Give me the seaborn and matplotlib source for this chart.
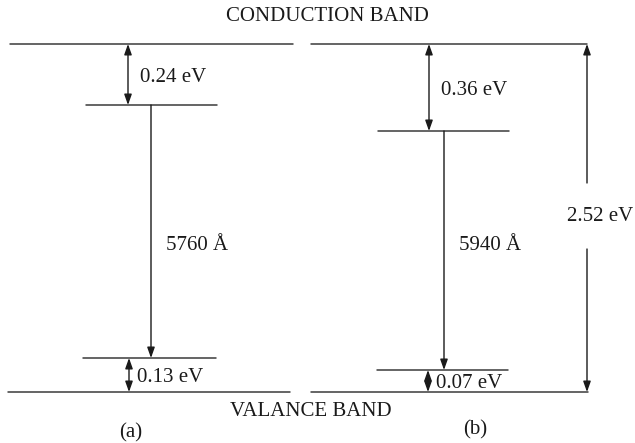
import matplotlib
matplotlib.use("Agg")
import matplotlib.pyplot as plt
import seaborn as sns
import pandas as pd

#  Data (schematic heights above the valence band, not to scale)
panels       = ["(a)", "(b)"]
top_gap_lbl  = ["0.24 eV", "0.36 eV"]
bot_gap_lbl  = ["0.13 eV", "0.07 eV"]
wave_lbl     = ["5760 Å", "5940 Å"]
band_gap_lbl = "2.52 eV"

band_top     = 348          # conduction band
band_bottom  = 0            # valence band
upper_level  = [287, 261]   # donor-type levels
lower_level  = [34, 22]     # acceptor-type levels

#  Layout (x positions in figure pixels)
band_x   = [(10, 293), (311, 587)]
valb_x   = [(8, 290), (311, 588)]
upper_x  = [(86, 217), (378, 509)]
lower_x  = [(83, 216), (377, 508)]
top_arr  = [128, 429]
tr_arr   = [151, 444]
bot_arr  = [129, 428]
gap_arr  = 587

sns.set_theme(style="white")
plt.rcParams["font.family"] = ["Liberation Serif", "DejaVu Serif"]

fig = plt.figure(figsize=(6.35, 4.43), dpi=100)
ax = fig.add_axes([0, 0, 1, 1])
ax.set_xlim(0, 635)
ax.set_ylim(-51, 392)
ax.axis("off")

# level segments
rows = []
seg = 0
for i in range(2):
    for (x0, x1), y in [(band_x[i], band_top), (valb_x[i], band_bottom),
                        (upper_x[i], upper_level[i]), (lower_x[i], lower_level[i])]:
        rows.append({"x": x0, "y": y, "seg": seg})
        rows.append({"x": x1, "y": y, "seg": seg})
        seg += 1
levels = pd.DataFrame(rows)
sns.lineplot(data=levels, x="x", y="y", units="seg", estimator=None,
             color="#3a3a3a", lw=1.1, ax=ax, legend=False)

fs = 15
ink = "#1a1a1a"
both = dict(arrowstyle="<|-|>,head_length=0.45,head_width=0.16", mutation_scale=14,
            lw=1.0, color=ink, shrinkA=0, shrinkB=0)
one = dict(arrowstyle="-|>,head_length=0.45,head_width=0.16", mutation_scale=14,
           lw=1.0, color=ink, shrinkA=0, shrinkB=0)

for i in range(2):
    ax.annotate("", xy=(top_arr[i], upper_level[i]), xytext=(top_arr[i], band_top),
                arrowprops=both)
    ax.annotate("", xy=(tr_arr[i], lower_level[i]), xytext=(tr_arr[i], upper_level[i]),
                arrowprops=one)
    ax.annotate("", xy=(bot_arr[i], band_bottom), xytext=(bot_arr[i], lower_level[i]),
                arrowprops=both)

    ax.text(top_arr[i] + 12, (band_top + upper_level[i]) / 2 - 3, top_gap_lbl[i],
            fontsize=fs, ha="left", va="center", color=ink)
    ax.text(tr_arr[i] + 15, 147, wave_lbl[i], fontsize=fs, ha="left", va="center",
            color=ink)
    ax.text(bot_arr[i] + 8, (lower_level[i] + band_bottom) / 2 - 2, bot_gap_lbl[i],
            fontsize=fs, ha="left", va="center", color=ink)

ax.text(131, -41, panels[0], fontsize=fs, ha="center", va="center", color=ink)
ax.text(475, -38, panels[1], fontsize=fs, ha="center", va="center", color=ink)

# total band gap, line broken around the label
mid = (band_top + band_bottom) / 2
ax.annotate("", xy=(gap_arr, band_top), xytext=(gap_arr, mid + 35), arrowprops=one)
ax.annotate("", xy=(gap_arr, band_bottom), xytext=(gap_arr, mid - 31), arrowprops=one)
ax.text(600, mid + 2, band_gap_lbl, fontsize=fs, ha="center", va="center", color=ink)

ax.text(327, 376, "CONDUCTION BAND", fontsize=fs, ha="center", va="center", color=ink)
ax.text(311, -20, "VALANCE BAND", fontsize=fs, ha="center", va="center", color=ink)

fig.savefig("out.png", dpi=100)
